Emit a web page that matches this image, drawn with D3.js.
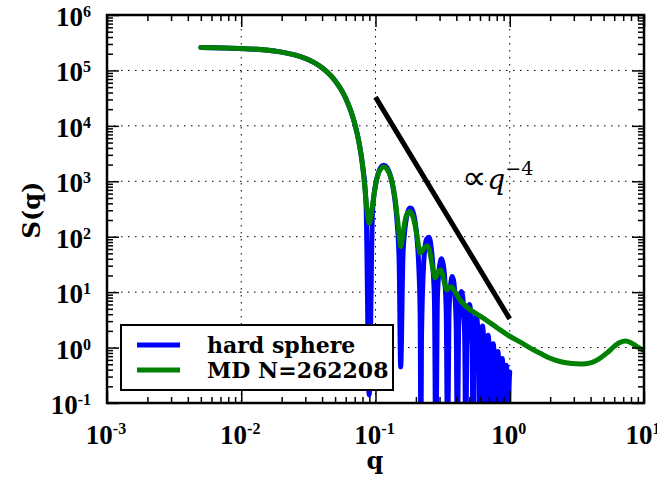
<!DOCTYPE html>
<html><head><meta charset="utf-8">
<script src="https://cdn.jsdelivr.net/npm/d3@7"></script>
<style>body{margin:0;background:#fff}</style>
</head><body><svg id="c" width="657" height="477"></svg>
<script>
// ---------- data ----------
const qBlue=[0.005,0.0075,0.01,0.015,0.02,0.025,0.03,0.035,0.04,0.045,0.05,0.055,0.06,0.065,0.07,0.075,0.08,0.085,0.0897,0.095,0.1,0.105,0.11,0.115,0.12,0.125,0.13,0.135,0.14,0.145,0.15,0.154,
0.16,0.165,0.17,0.175,0.18,0.185,0.19,0.195,0.2,0.205,0.21,0.215,0.2181,
0.22,0.23,0.24,0.25,0.26,0.27,0.275,0.2813,
0.2892,0.2971,0.3050,0.3103,0.3207,0.3286,0.3365,0.3444,
0.3523,0.3602,0.3680,0.3738,0.3838,0.3917,0.3995,0.4074,
0.4153,0.4232,0.4310,0.4371,0.4468,0.4547,0.4625,0.4704,
0.4783,0.4861,0.4940,0.5003,0.5097,0.5176,0.5254,0.5333,
0.5412,0.5490,0.5569,0.5634,0.5726,0.5805,0.5883,0.5962,
0.6028,0.6107,0.6185,0.6264,0.6343,0.6421,0.6500,0.6591,
0.6658,0.6737,0.6815,0.6894,0.6973,0.7051,0.7130,0.7220,
0.7288,0.7367,0.7445,0.7524,0.7603,0.7681,0.7760,0.7849,
0.7918,0.7997,0.8075,0.8154,0.8233,0.8311,0.8390,0.8478,
0.8548,0.8627,0.8705,0.8784,0.8863,0.8941,0.9020,0.9106,
0.9176,0.9255,0.9333,0.9412,0.9491,0.9569,0.9648,0.9735,
0.9807,0.9885,0.9964,1.0];
const sBlue=[259000,254900,249400,234100,214000,190400,164600,138000,111800,87350,65410,46630,31330,19530,11000,5327,1988,401,0.14,285,853,1418,1806,1946,1846,1561,1177,776,428,176,36.6,0.45,
41.7,126.4,219,292.4,329.4,324.6,283.5,218.5,145.3,78.7,29.8,4.12,0.01,
1.465,42.2,89.9,97.3,63.3,20.4,6.37,0.01,
7.78,23.9,36.8,40.2,30.0,16.0,4.24,0.01,
3.55,11.1,17.4,19.18,14.7,7.96,2.14,0.01,
1.84,5.85,9.29,10.28,8.04,4.39,1.20,0.01,
1.05,3.36,5.39,6.0,4.75,2.62,0.72,0.01,
0.640,2.07,3.34,3.735,2.99,1.66,0.458,0.01,
0.416,1.353,2.196,2.445,1.987,1.107,0.308,0.01,
0.280,0.914,1.490,1.667,1.361,0.762,0.213,0.01,
0.195,0.640,1.047,1.176,0.963,0.541,0.152,0.01,
0.140,0.461,0.757,0.853,0.701,0.395,0.111,0.01,
0.103,0.340,0.560,0.633,0.522,0.295,0.083,0.01,
0.078,0.257,0.424,0.481,0.397,0.225,0.064,0.01,
0.060,0.198,0.327,0.361];

const qGreen=[0.005,0.01,0.02,0.03,0.04,0.05,0.06,0.07,0.075,0.08,
0.0835,0.0865,0.0897,0.093,0.097,0.1,0.105,0.11,0.116,0.122,
0.13,0.14,0.148,0.154,0.16,0.168,0.179,0.19,0.2,0.208,
0.2146,0.222,0.232,0.243,0.253,0.262,0.27,0.2773,0.285,0.295,
0.306,0.317,0.328,0.339,0.35,0.36,0.37,0.385,0.405,0.426,
0.46,0.508,0.58,0.672,0.8,1.0,1.2,1.4,1.7,2.0,
2.4,2.9,3.4,4.0,4.6,5.3,6.0,6.6,7.3,8.0,
8.8,10];
const sGreen=[259000,249400,214000,164600,111800,65410,31330,11000,5327,2000,
700,300,175,260,520,850,1380,1700,1820,1650,
1180,480,150,66,110,220,285,230,135,75,
51,55,64,68,55,35,23,18,20,24,
25,20,14,10.9,11.8,12.4,12.5,10.8,8.8,7.2,
5.9,4.8,3.9,3.1,2.3,1.6,1.25,1.0,0.78,0.64,
0.555,0.515,0.505,0.53,0.62,0.8,1.05,1.24,1.32,1.22,
1.05,0.88];

const qRef=[0.1,1.0];
const sRef=[33000,3.3];

const xMajor=[1e-3,1e-2,1e-1,1,10];
const xExp=["-3","-2","-1","0","1"];
const yMajor=[1e-1,1,10,100,1e3,1e4,1e5,1e6];
const yExp=["-1","0","1","2","3","4","5","6"];

const seriesNames=["hard sphere","MD N=262208"];
const seriesColors=["#0000ff","#008000"];

// ---------- layout ----------
const W=657,H=477;
const L=107,R=644,T=15,B=403;
const svg=d3.select("#c");
const x=d3.scaleLog().domain([1e-3,10]).range([L,R]);
const y=d3.scaleLog().domain([1e-1,1e6]).range([B,T]);

const xMinor=[],yMinor=[];
for(let e=-3;e<1;e++)for(let m=2;m<10;m++)xMinor.push(m*Math.pow(10,e));
for(let e=-1;e<6;e++)for(let m=2;m<10;m++)yMinor.push(m*Math.pow(10,e));

// grid
const grid=svg.append("g").attr("stroke","#000").attr("stroke-width",1).attr("stroke-dasharray","1.5,5.5");
grid.selectAll(".gx").data(xMajor.slice(1,-1)).enter().append("line")
  .attr("x1",d=>x(d)).attr("x2",d=>x(d)).attr("y1",T).attr("y2",B);
grid.selectAll(".gy").data(yMajor.slice(1,-1)).enter().append("line")
  .attr("y1",d=>y(d)).attr("y2",d=>y(d)).attr("x1",L).attr("x2",R);

// clip
svg.append("clipPath").attr("id","clip").append("rect").attr("x",L).attr("y",T).attr("width",R-L).attr("height",B-T);
const plot=svg.append("g").attr("clip-path","url(#clip)");

const line=d3.line().x(d=>x(d[0])).y(d=>y(d[1])).curve(d3.curveMonotoneX);
plot.append("path").datum(qBlue.map((q,i)=>[q,sBlue[i]]))
  .attr("d",line).attr("fill","none").attr("stroke",seriesColors[0]).attr("stroke-width",5).attr("stroke-linejoin","round").attr("stroke-linecap","round");
plot.append("path").datum(qGreen.map((q,i)=>[q,sGreen[i]]))
  .attr("d",line).attr("fill","none").attr("stroke",seriesColors[1]).attr("stroke-width",5).attr("stroke-linejoin","round").attr("stroke-linecap","round");
plot.append("path").datum(qRef.map((q,i)=>[q,sRef[i]]))
  .attr("d",d3.line().x(d=>x(d[0])).y(d=>y(d[1]))).attr("fill","none").attr("stroke","#000").attr("stroke-width",5);

// axes (ticks inward on all four sides)
function ax(gen,scale,vals,size,tr){
  const g=svg.append("g").attr("transform",tr).call(gen(scale).tickValues(vals).tickSize(size).tickFormat(""));
  g.select(".domain").remove();
  g.selectAll(".tick line").attr("stroke","#000").attr("stroke-width",1.5);
  return g;
}
ax(d3.axisBottom,x,xMajor,-12,`translate(0,${B})`);
ax(d3.axisBottom,x,xMinor,-6,`translate(0,${B})`);
ax(d3.axisTop,x,xMajor,-12,`translate(0,${T})`);
ax(d3.axisTop,x,xMinor,-6,`translate(0,${T})`);
ax(d3.axisLeft,y,yMajor,-12,`translate(${L},0)`);
ax(d3.axisLeft,y,yMinor,-6,`translate(${L},0)`);
ax(d3.axisRight,y,yMajor,-12,`translate(${R},0)`);
ax(d3.axisRight,y,yMinor,-6,`translate(${R},0)`);
svg.append("rect").attr("x",L).attr("y",T).attr("width",R-L).attr("height",B-T)
  .attr("fill","none").attr("stroke","#000").attr("stroke-width",2.5);

// tick labels
const lf="'Liberation Serif', serif";
xMajor.forEach((v,i)=>{
  const t=svg.append("text").attr("x",x(v)-1).attr("y",444).attr("text-anchor","middle")
    .attr("font-family",lf).attr("font-weight","bold").attr("font-size",27);
  t.append("tspan").text("10");
  t.append("tspan").attr("dy",-10).attr("font-size",16).text(xExp[i]);
});
yMajor.forEach((v,i)=>{
  const t=svg.append("text").attr("x",91).attr("y",y(v)+11).attr("text-anchor","end")
    .attr("font-family",lf).attr("font-weight","bold").attr("font-size",27);
  t.append("tspan").text("10");
  t.append("tspan").attr("dy",-9).attr("font-size",16).text(yExp[i]);
});

// axis titles
svg.append("text").attr("x",375).attr("y",469).attr("text-anchor","middle")
  .attr("font-family","'DejaVu Serif', serif").attr("font-weight","bold").attr("font-size",24).text("q");
svg.append("text").attr("transform","translate(40,210) rotate(-90)").attr("text-anchor","middle")
  .attr("font-family","'DejaVu Serif', serif").attr("font-weight","bold").attr("font-size",24).text("S(q)");

// annotation
const ann=svg.append("text").attr("x",462).attr("y",189).attr("font-family","'DejaVu Serif', serif").attr("font-size",28);
ann.append("tspan").attr("font-family","'DejaVu Sans', sans-serif").attr("font-size",34).text("∝");
ann.append("tspan").attr("font-style","italic").attr("dx",1).text("q");
ann.append("tspan").attr("dy",-14).attr("font-size",19).text("−4");

// legend
const lg=svg.append("g");
lg.append("rect").attr("x",121).attr("y",325).attr("width",272).attr("height",65)
  .attr("fill","#fff").attr("stroke","#000").attr("stroke-width",2);
seriesNames.forEach((n,i)=>{
  const yy=345+i*25;
  lg.append("line").attr("x1",137).attr("x2",180).attr("y1",yy).attr("y2",yy)
    .attr("stroke",seriesColors[i]).attr("stroke-width",5);
  lg.append("text").attr("x",207).attr("y",yy+8).attr("font-family","'DejaVu Serif', serif")
    .attr("font-weight","bold").attr("font-size",22).text(n);
});
</script></body></html>
